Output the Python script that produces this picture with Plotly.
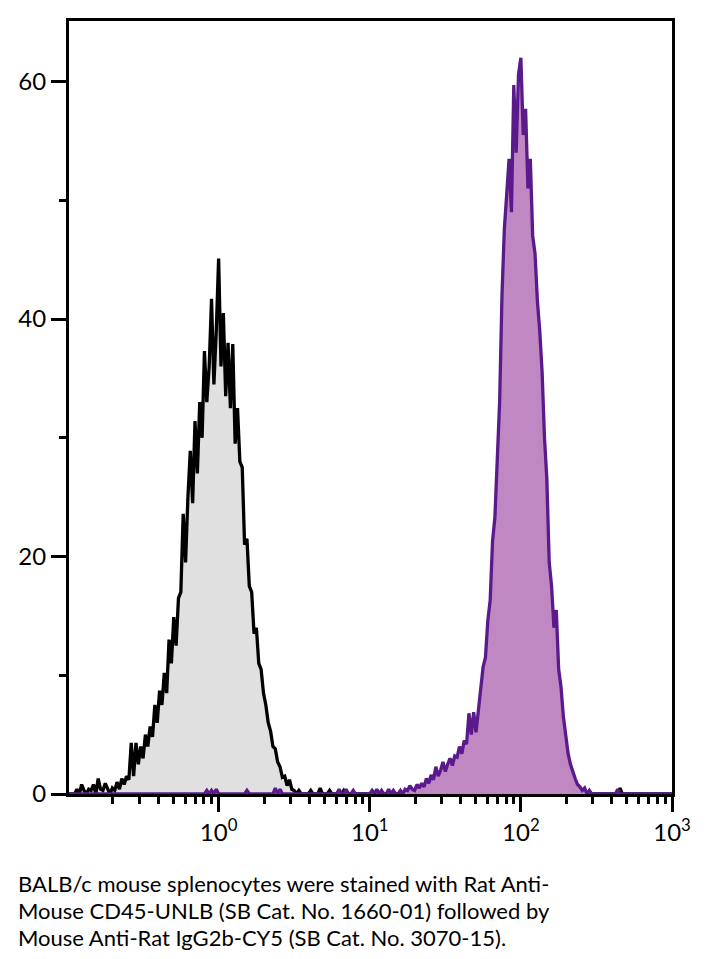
import numpy as np
import plotly.graph_objects as go

# channel positions: 64 channels per decade, from 10^-1 to 10^3 (log10 exponents)
n_channels = 257
channel_log = np.linspace(-1, 3, n_channels)
channels = 10 ** channel_log

# Control histogram counts, channel 0..
control_counts = [
    0, 0, 0, 0, 0.4, 0, 0.8, 0.3, 0, 0.4,
    0.3, 0.8, 0, 1.3, 0.4, 0.3, 0.9, 0.4, 0, 0.5,
    0.3, 1.0, 0.4, 1.3, 0.8, 1.5, 1.2, 4.3, 1.5, 4.3,
    2.5, 4.0, 3.0, 5.0, 4.0, 5.7, 4.8, 7.5, 6.0, 8.7,
    7.5, 10.2, 8.5, 13.0, 11.0, 14.9, 12.5, 16.5, 17.0, 23.6,
    19.5, 25.0, 28.9, 24.5, 31.4, 27.0, 33.0, 30.0, 37.3, 33.0,
    36.0, 41.7, 34.5, 39.0, 45.1, 36.0, 40.5, 33.5, 38.0, 32.5,
    37.9, 29.5, 32.5, 28.0, 27.5, 21.0, 21.5, 17.5, 17.0, 13.5,
    14.0, 11.0, 10.5, 8.5, 7.5, 6.0, 5.3, 4.0, 3.8, 2.7,
    2.3, 1.4, 1.5, 0.7, 1.2, 0.4, 0.3, 0, 0.3, 0,
    0, 0, 0, 0.3, 0, 0, 0, 0.5, 0, 0,
    0, 0.3, 0, 0, 0, 0, 0, 0.3, 0, 0,
]
control_counts = control_counts + [0] * (n_channels - len(control_counts))
control_counts[234] = 0.5

# Stained histogram counts
stained_counts = [0] * n_channels
stained_sparse = {
    59: 0.3, 61: 0.3, 63: 0.4, 76: 0.3, 88: 0.5, 90: 0.4,
    115: 0.4, 118: 0.4, 121: 0.3, 129: 0.3, 131: 0.4, 133: 0.3, 136: 0.4, 138: 0.3,
}
stained_main = [
    0.3, 0, 0.4, 0.3, 0.7, 0.4, 0.3, 0.8, 0.5, 0.9,          # 141-150
    0.6, 1.3, 0.9, 1.6, 1.2, 2.3, 1.5, 2.0, 2.7, 1.9,        # 151-160
    2.5, 3.0, 2.4, 3.2, 3.1, 4.0, 3.4, 4.5, 4.2, 6.8,        # 161-170
    5.0, 6.9, 5.2, 7.0, 8.8, 10.7, 11.5, 14.6, 16.3, 21.3,   # 171-180
    23.3, 27.5, 33.0, 42.0, 47.6, 50.5, 53.5, 49.0, 59.7, 54.0,  # 181-190
    60.6, 62.0, 55.5, 57.7, 51.0, 53.5, 47.0, 45.5, 41.5, 39.0,  # 191-200
    35.5, 30.0, 26.5, 19.5, 17.5, 14.0, 15.5, 10.5, 9.0, 6.5,    # 201-210
    5.0, 3.4, 2.5, 1.8, 1.3, 0.8, 0.6, 0.3, 0.5, 0,          # 211-220
    0.3,                                                     # 221
]
for k, v in stained_sparse.items():
    stained_counts[k] = v
for j, v in enumerate(stained_main):
    stained_counts[141 + j] = v
stained_counts[233] = 0.4

tick_vals = [1, 10, 100, 1000]
tick_text = ["10<sup>0</sup>", "10<sup>1</sup>", "10<sup>2</sup>", "10<sup>3</sup>"]
minor_vals = [m * d for d in (0.1, 1, 10, 100) for m in range(2, 10)]
y_tick_vals = [0, 20, 40, 60]
y_minor_vals = [10, 30, 50]

caption_lines = [
    "BALB/c mouse splenocytes were stained with Rat Anti-",
    "Mouse CD45-UNLB (SB Cat. No. 1660-01) followed by",
    "Mouse Anti-Rat IgG2b-CY5 (SB Cat. No. 3070-15).",
]

# page has an 8px body margin: figure drawn at offset (8, 8)
W, H = 698, 951
ml, mr, mt, mb = 59, 34, 10, 165
pw, ph = W - ml - mr, H - mt - mb

font_family = "Lato, 'Open Sans', sans-serif"

fig = go.Figure()
fig.add_trace(go.Scatter(
    x=channels, y=control_counts, mode="lines", fill="tozeroy",
    line=dict(color="black", width=3.3), fillcolor="#e0e0e0",
    showlegend=False, hoverinfo="skip"))
fig.add_trace(go.Scatter(
    x=channels, y=stained_counts, mode="lines", fill="tozeroy",
    line=dict(color="#5a1a8c", width=3.3), fillcolor="#c088c2",
    showlegend=False, hoverinfo="skip"))

annotations = []
for k, line in enumerate(caption_lines):
    cy = 884 + 27 * k - 8  # center in figure coords
    annotations.append(dict(
        text=line, xref="paper", yref="paper",
        x=(14 - 8 - ml) / pw, y=(H - mb - cy) / ph,
        xanchor="left", yanchor="middle", align="left", showarrow=False,
        font=dict(size=22, family=font_family, color="black"),
    ))

fig.update_layout(
    width=W, height=H,
    margin=dict(l=ml, r=mr, t=mt, b=mb),
    paper_bgcolor="white", plot_bgcolor="white",
    font=dict(family=font_family, color="black", size=23),
    xaxis=dict(
        type="log", range=[-0.99, 3.0],
        tickmode="array", tickvals=tick_vals, ticktext=tick_text,
        ticks="outside", ticklen=15, tickwidth=2.5, tickcolor="black",
        minor=dict(tickmode="array", tickvals=minor_vals, ticks="outside",
                   ticklen=7, tickwidth=2.5, tickcolor="black", showgrid=False),
        showline=True, linewidth=3, linecolor="black", mirror=True,
        showgrid=False, zeroline=False,
        tickfont=dict(size=24),
    ),
    yaxis=dict(
        range=[0, 65.1],
        tickmode="array", tickvals=y_tick_vals,
        ticks="outside", ticklen=15, tickwidth=2.5, tickcolor="black",
        minor=dict(tickmode="array", tickvals=y_minor_vals, ticks="outside",
                   ticklen=7, tickwidth=2.5, tickcolor="black", showgrid=False),
        showline=True, linewidth=3, linecolor="black", mirror=True,
        showgrid=False, zeroline=False,
        tickfont=dict(size=24),
    ),
    annotations=annotations,
)

fig.write_html("out.html")
